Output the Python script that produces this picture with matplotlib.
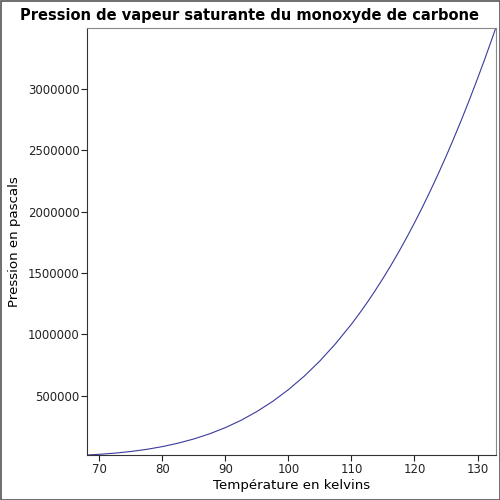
import numpy as np
import matplotlib
matplotlib.use("Agg")
import matplotlib.pyplot as plt
from matplotlib.patches import Rectangle

# Data (K, Pa)
temperature_k = [68.1, 70, 72.5, 75, 77.5, 80, 82.5, 85, 87.5, 90, 92.5, 95,
                 97.5, 100, 102.5, 105, 107.5, 110, 111.25, 112.5, 113.75,
                 115, 116.25, 117.5, 118.75, 120, 121.25, 122.5, 123.75, 125,
                 126.25, 127.5, 128.75, 130, 131.25, 132.9]
pressure_pa = [15400, 21000, 30700, 43900, 61300, 83800, 112000, 146300,
               188200, 238700, 298700, 369900, 452600, 548400, 658000,
               783000, 924600, 1082800, 1168800, 1259600, 1355200,
               1455700, 1561300, 1672100, 1788000, 1909600, 2036400,
               2168900, 2306800, 2450700, 2600500, 2756300, 2918000,
               3086200, 3259800, 3499000]

x_ticks = [70, 80, 90, 100, 110, 120, 130]
y_ticks = [500000, 1000000, 1500000, 2000000, 2500000, 3000000]

fig = plt.figure(figsize=(5, 5), dpi=100)
ax = fig.add_axes([0.1746, 0.09, 0.817, 0.854])

ax.plot(temperature_k, pressure_pa, color="#3a3a9c", linewidth=0.8)

ax.set_xlim(temperature_k[0], temperature_k[-1])
ax.set_ylim(pressure_pa[0], pressure_pa[-1])
ax.set_xticks(x_ticks)
ax.set_yticks(y_ticks)
ax.set_yticklabels([str(v) for v in y_ticks])
ax.tick_params(labelsize=8.5, direction="out", length=4, colors="#222222")
ax.tick_params(axis="y", pad=1.5)
ax.tick_params(axis="x", pad=2)

for side in ["top", "right"]:
    ax.spines[side].set_color("#888888")
for side in ["left", "bottom"]:
    ax.spines[side].set_color("#333333")

ax.set_xlabel("Température en kelvins", fontsize=9.6, labelpad=2)
ax.set_ylabel("Pression en pascals", fontsize=9.6, labelpad=5)
fig.suptitle("Pression de vapeur saturante du monoxyde de carbone",
             fontsize=10.5, fontweight="bold", y=0.984)

# thin frame around the whole picture
fig.patches.append(Rectangle((0.001, 0.001), 0.998, 0.998, transform=fig.transFigure,
                             fill=False, edgecolor="#555555", linewidth=1.2))

fig.savefig("out.png", dpi=100)
